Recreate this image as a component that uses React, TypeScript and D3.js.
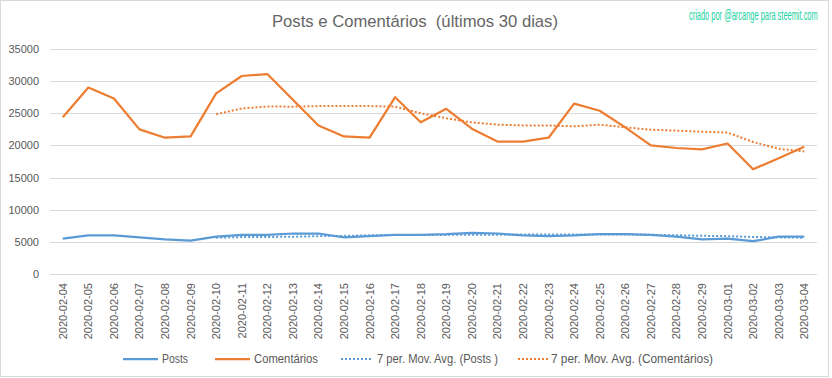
import React from 'react';
import * as d3 from 'd3';

const categories = [
  '2020-02-04','2020-02-05','2020-02-06','2020-02-07','2020-02-08','2020-02-09','2020-02-10','2020-02-11','2020-02-12','2020-02-13',
  '2020-02-14','2020-02-15','2020-02-16','2020-02-17','2020-02-18','2020-02-19','2020-02-20','2020-02-21','2020-02-22','2020-02-23',
  '2020-02-24','2020-02-25','2020-02-26','2020-02-27','2020-02-28','2020-02-29','2020-03-01','2020-03-02','2020-03-03','2020-03-04',
];
const posts = [
  5500, 6000, 6000, 5700, 5400, 5200, 5800, 6100, 6100, 6300,
  6300, 5700, 5900, 6100, 6100, 6200, 6400, 6300, 6000, 5900,
  6000, 6200, 6200, 6100, 5800, 5400, 5500, 5100, 5800, 5800,
];
const comentarios = [
  24400, 29000, 27300, 22500, 21200, 21400, 28100, 30800, 31100, 27100,
  23100, 21400, 21200, 27500, 23600, 25700, 22600, 20600, 20600, 21200,
  26500, 25400, 22800, 20000, 19600, 19400, 20300, 16300, 18000, 19800,
];
const yTicks = [0, 5000, 10000, 15000, 20000, 25000, 30000, 35000];
const MA_PERIOD = 7;

const title = 'Posts e Comentários  (últimos 30 dias)';
const watermark = 'criado por @arcange para steemit.com';

const W = 832, H = 378;
const left = 50, right = 817, top = 49, bottom = 274;
const BLUE = '#5b9bd5', ORANGE = '#ed7d31', GRID = '#d9d9d9', TXT = '#595959';
const FONT = '"Liberation Sans", Arial, sans-serif';

function movingAvg(vals: number[], n: number) {
  return vals.map((_, i) => (i < n - 1 ? null : d3.mean(vals.slice(i - n + 1, i + 1)) as number));
}

export default function App() {
  const x = d3.scaleBand<string>().domain(categories).range([left, right]);
  const y = d3.scaleLinear().domain([0, 35000]).range([bottom, top]);
  const cx = (c: string) => (x(c) as number) + x.bandwidth() / 2;

  const line = d3.line<number | null>()
    .defined((d) => d != null)
    .x((_, i) => cx(categories[i]))
    .y((d) => y(d as number));

  const maPosts = movingAvg(posts, MA_PERIOD);
  const maCom = movingAvg(comentarios, MA_PERIOD);

  const legendY = 359;
  const legend = [
    { x1: 123, x2: 158, tx: 162, tl: 26, color: BLUE, dash: null, label: 'Posts' },
    { x1: 215, x2: 250, tx: 254, tl: 64, color: ORANGE, dash: null, label: 'Comentários' },
    { x1: 341, x2: 373, tx: 377, tl: 121, color: BLUE, dash: '2 2', label: '7 per. Mov. Avg. (Posts )' },
    { x1: 518, x2: 548, tx: 551, tl: 162, color: ORANGE, dash: '2 2', label: '7 per. Mov. Avg. (Comentários)' },
  ];

  return (
    <svg width={W} height={H} style={{ position: 'absolute', left: 0, top: 0, background: '#fff' }} fontFamily={FONT}>
      <rect x={0.5} y={0.5} width={828} height={376} fill="#fff" stroke={GRID} strokeWidth={1} />
      <text x={272} y={27} fontSize={17} fill="#666" textLength={286} lengthAdjust="spacingAndGlyphs" style={{ whiteSpace: 'pre' }}>{title}</text>
      <g transform="translate(689,20) scale(0.55,1)">
        <text x={0} y={0} fontSize={14} fill="#19d3a2" textLength={234} lengthAdjust="spacingAndGlyphs">{watermark}</text>
      </g>

      {yTicks.map((t) => (
        <g key={t}>
          <line x1={left} x2={right} y1={Math.round(y(t)) + 0.5} y2={Math.round(y(t)) + 0.5} stroke={GRID} strokeWidth={1} />
          <text x={39} y={y(t) + 4} fontSize={11} fill={TXT} textAnchor="end">{t}</text>
        </g>
      ))}

      {categories.map((c) => (
        <text key={c} transform={`translate(${cx(c) + 4},283) rotate(-90)`} fontSize={11} fill={TXT} textAnchor="end">{c}</text>
      ))}

      <path d={line(maPosts) as string} fill="none" stroke={BLUE} strokeWidth={2} strokeDasharray="2 2" />
      <path d={line(maCom) as string} fill="none" stroke={ORANGE} strokeWidth={2} strokeDasharray="2 2" />
      <path d={line(posts) as string} fill="none" stroke={BLUE} strokeWidth={2.25} strokeLinejoin="round" />
      <path d={line(comentarios) as string} fill="none" stroke={ORANGE} strokeWidth={2.25} strokeLinejoin="round" />

      {legend.map((l) => (
        <g key={l.label}>
          <line x1={l.x1} x2={l.x2} y1={legendY} y2={legendY} stroke={l.color} strokeWidth={l.dash ? 2 : 2.25} strokeDasharray={l.dash ?? undefined} />
          <text x={l.tx} y={legendY + 4} fontSize={12} fill={TXT} textLength={l.tl} lengthAdjust="spacingAndGlyphs">{l.label}</text>
        </g>
      ))}
    </svg>
  );
}
